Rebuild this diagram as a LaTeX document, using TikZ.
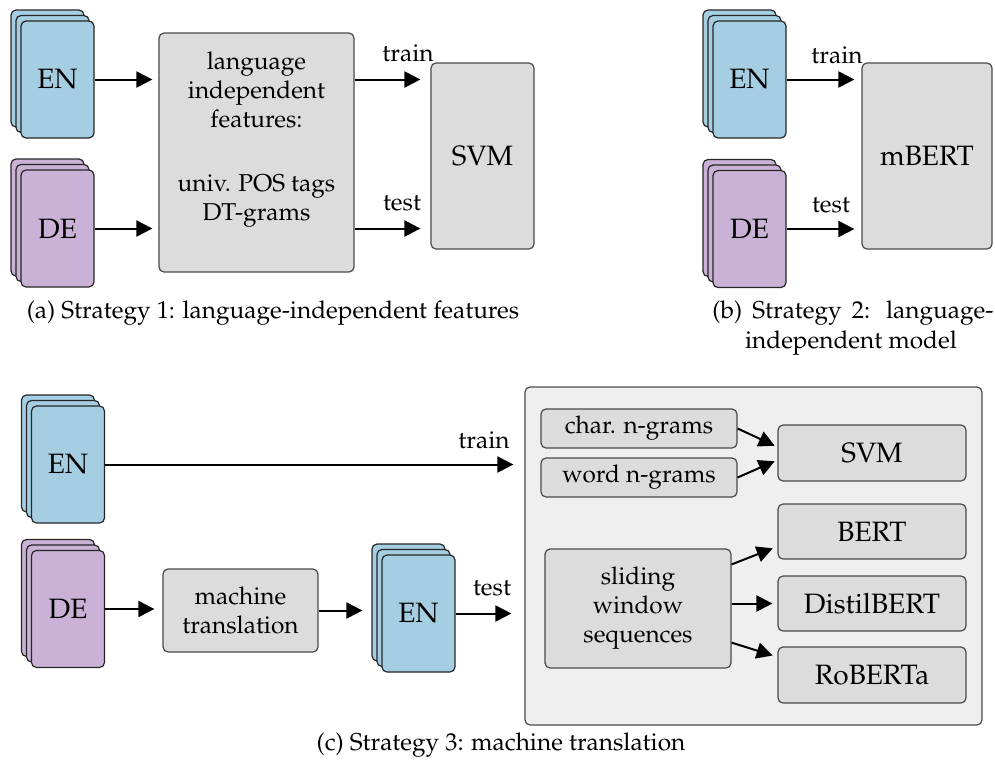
\documentclass[tikz,border=0pt]{standalone}
\usepackage[T1]{fontenc}
\usepackage{mathpazo}
\usetikzlibrary{arrows.meta}

\definecolor{enblue}{HTML}{A6CEE3}
\definecolor{depurple}{HTML}{CAB2D6}
\definecolor{boxgray}{HTML}{DCDCDC}
\definecolor{panelgray}{HTML}{EFEFEF}
\definecolor{edgegray}{HTML}{4A4A4A}

% a stack of three document cards; #1 = name of the front card
\newcommand\cardstack[5]{%
  \node[card,fill=#4] (#1b) at (#2-10,#3-11) {};
  \node[card,fill=#4] (#1m) at (#2-5,#3-5.5) {};
  \node[card,fill=#4] (#1) at (#2,#3) {#5};}

\begin{document}
\begin{tikzpicture}[x=0.5pt,y=-0.5pt,
  txt/.style={inner sep=0pt,font=\fontsize{12.2}{14.5}\selectfont},
  bigtxt/.style={font=\fontsize{14}{17}\selectfont},
  card/.style={draw=black!85,line width=0.6pt,rounded corners=2.5pt,
    minimum width=36.5pt,minimum height=58.5pt,inner sep=0pt,bigtxt},
  box/.style={draw=edgegray,fill=boxgray,line width=0.6pt,rounded corners=2.5pt,
    inner sep=0pt,align=center,txt},
  bigbox/.style={box,bigtxt},
  panel/.style={draw=edgegray,fill=panelgray,line width=0.6pt,rounded corners=2.5pt,inner sep=0pt},
  arr/.style={line width=1pt,-{Triangle[length=8pt,width=8pt]}}]

\useasboundingbox (0,0) rectangle (995,760);

% ---------- (a) language-independent features ----------
\cardstack{enA}{57.5}{79.5}{enblue}{EN}
\cardstack{deA}{57.5}{228.5}{depurple}{DE}
\node[box,minimum width=97.5pt,minimum height=119.5pt] (langA) at (256.5,152.5) {};
\node[txt,align=center] (langAtxt) at (256.5,140)
  {language\\independent\\features:\\[17.5pt]univ. POS tags\\DT-grams};
\node[bigbox,minimum width=51.5pt,minimum height=93pt] (svmA) at (482.5,156) {SVM};

\draw[arr,shorten >=3pt] (enA.east) -- (enA.east -| langA.west);
\draw[arr,shorten >=3pt] (deA.east) -- (deA.east -| langA.west);
\draw[arr,shorten >=5pt] (langA.east |- enA.east) -- (svmA.west |- enA.east);
\draw[arr,shorten >=5pt] (langA.east |- deA.east) -- (svmA.west |- deA.east);
\node[txt] (trainA) at (408,53) {train};
\node[txt] (testA) at (402,203) {test};
\node[txt] (capA) at (273,313) {(a) Strategy 1: language-independent features};

% ---------- (b) language-independent model ----------
\cardstack{enB}{749.5}{79.5}{enblue}{EN}
\cardstack{deB}{749.5}{229}{depurple}{DE}
\node[bigbox,minimum width=65pt,minimum height=93pt] (mbert) at (927,156) {mBERT};
\draw[arr,shorten >=3.5pt] (enB.east) -- (enB.east -| mbert.west);
\draw[arr,shorten >=3.5pt] (deB.east) -- (deB.east -| mbert.west);
\node[txt] (trainB) at (837,55) {train};
\node[txt] (testB) at (831,205) {test};
\node[txt,anchor=west] (capB1) at (712,313) {\makebox[140.5pt][s]{(b) Strategy 2: language-}};
\node[txt] (capB2) at (851,343) {independent model};

% ---------- (c) machine translation ----------
\cardstack{enC}{68}{464.5}{enblue}{EN}
\cardstack{deC}{68}{609}{depurple}{DE}
\node[box,minimum width=77.5pt,minimum height=41.5pt] (mt) at (240.5,610.5) {machine\\translation};
\cardstack{enD}{418.5}{613.5}{enblue}{EN}

\node[panel,minimum width=228.5pt,minimum height=169pt] (models) at (753.5,556) {};
\node[box,minimum width=98pt,minimum height=19.5pt] (char) at (639,428.5) {char. n-grams};
\node[box,minimum width=98pt,minimum height=19.5pt] (word) at (639,477.5) {word n-grams};
\node[box,minimum width=93pt,minimum height=59.5pt] (sw) at (638,608.5) {sliding\\window\\sequences};
\node[bigbox,minimum width=94pt,minimum height=28pt] (svmC) at (872,453) {SVM};
\node[bigbox,minimum width=94pt,minimum height=27.5pt] (bert) at (872,531.5) {BERT};
\node[bigbox,minimum width=94pt,minimum height=27.5pt] (distil) at (872,603.5) {DistilBERT};
\node[bigbox,minimum width=94pt,minimum height=28pt] (roberta) at (872,675) {RoBERTa};

\draw[arr,shorten >=5.5pt] (enC.east) -- (enC.east -| models.west);
\draw[arr,shorten >=4pt] (deC.east) -- (deC.east -| mt.west);
\draw[arr,shorten >=4.5pt] (mt.east) -- (mt.east -| enDb.west);
\draw[arr,shorten >=6.5pt] (enD.east) -- (enD.east -| models.west);
\node[txt] (trainC) at (484,440) {train};
\node[txt] (testC) at (492,588) {test};

\draw[arr,shorten >=1.5pt] (char.east) -- ([yshift=3pt]svmC.west);
\draw[arr,shorten >=1.5pt] (word.east) -- ([yshift=-3.5pt]svmC.west);
\draw[arr,shorten >=2.5pt] ([yshift=-8pt]sw.north east) -- ([yshift=-7.5pt]bert.west);
\draw[arr,shorten >=2.5pt] (sw.east |- distil.west) -- (distil.west);
\draw[arr,shorten >=2.5pt] ([yshift=13pt]sw.south east) -- ([yshift=9pt]roberta.west);

\node[txt] (capC) at (501,745) {(c) Strategy 3: machine translation};
\end{tikzpicture}
\end{document}
